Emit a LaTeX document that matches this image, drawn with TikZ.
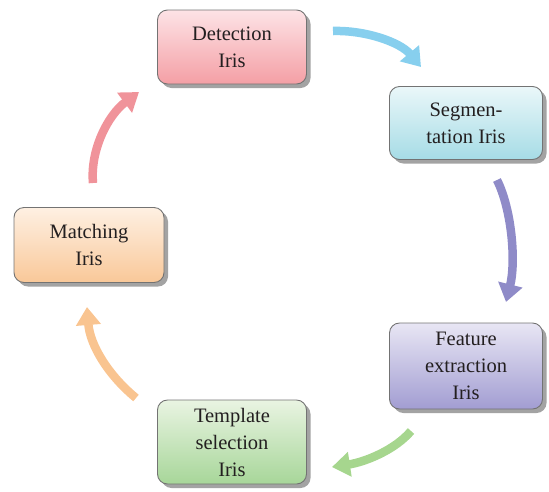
\documentclass[tikz,border=0pt]{standalone}
\usepackage{fontspec}
\setmainfont{Liberation Serif}
\usetikzlibrary{arrows.meta,shadows}
\definecolor{txt}{HTML}{231F20}
\definecolor{redT}{HTML}{FDE3E6}\definecolor{redB}{HTML}{F49FA5}
\definecolor{bluT}{HTML}{EAF7F9}\definecolor{bluB}{HTML}{A6DCE6}
\definecolor{purT}{HTML}{E8E6F4}\definecolor{purB}{HTML}{A29DD2}
\definecolor{grnT}{HTML}{E9F4E2}\definecolor{grnB}{HTML}{A7D699}
\definecolor{orgT}{HTML}{FEF0E3}\definecolor{orgB}{HTML}{F9C898}
\definecolor{aBlu}{HTML}{87CFEE}\definecolor{aPur}{HTML}{8F8BC8}
\definecolor{aGrn}{HTML}{A6D68E}\definecolor{aOrg}{HTML}{F9C490}
\definecolor{aRed}{HTML}{F0939A}
\begin{document}
\begin{tikzpicture}[x=1pt,y=-1pt,
  stage/.style={draw=black!55, line width=0.9pt, rounded corners=10pt,
    align=center, text=txt, font=\fontsize{20.5}{27}\selectfont,
    inner sep=0pt, drop shadow={shadow xshift=4pt, shadow yshift=-4pt, fill=black!45, opacity=0.8}},
  flow/.style={line width=8.5pt, -{Triangle[length=18pt,width=24pt]}}]
\useasboundingbox (0,0) rectangle (549,491);
\node[stage, minimum width=149pt, minimum height=74pt, top color=redT, bottom color=redB] (det) at (232,47) {Detection\\Iris};
\node[stage, minimum width=153pt, minimum height=73pt, top color=bluT, bottom color=bluB] (seg) at (466,123) {Segmen-\\tation Iris};
\node[stage, minimum width=153pt, minimum height=86pt, top color=purT, bottom color=purB] (fea) at (466,366) {Feature\\extraction\\Iris};
\node[stage, minimum width=149pt, minimum height=84pt, top color=grnT, bottom color=grnB] (tpl) at (232,442) {Template\\selection\\Iris};
\node[stage, minimum width=150pt, minimum height=75pt, top color=orgT, bottom color=orgB] (mat) at (89,245) {Matching\\Iris};
% arrow end points
\coordinate (b1) at (333,31); \coordinate (b2) at (421,67);
\coordinate (p1) at (497,180); \coordinate (p2) at (506,302);
\coordinate (g1) at (411,431); \coordinate (g2) at (332,467);
\coordinate (o1) at (136,398); \coordinate (o2) at (87,307);
\coordinate (r1) at (93,183); \coordinate (r2) at (139,92);
\draw[flow, aBlu] (b1) .. controls (365,30) and (400,42) .. (b2);
\draw[flow, aPur] (p1) .. controls (512,210) and (516,262) .. (p2);
\draw[flow, aGrn] (g1) .. controls (395,450) and (365,462) .. (g2);
\draw[flow, aOrg] (o1) .. controls (108,375) and (90,345) .. (o2);
\draw[flow, aRed] (r1) .. controls (90,150) and (108,115) .. (r2);
\end{tikzpicture}
\end{document}
